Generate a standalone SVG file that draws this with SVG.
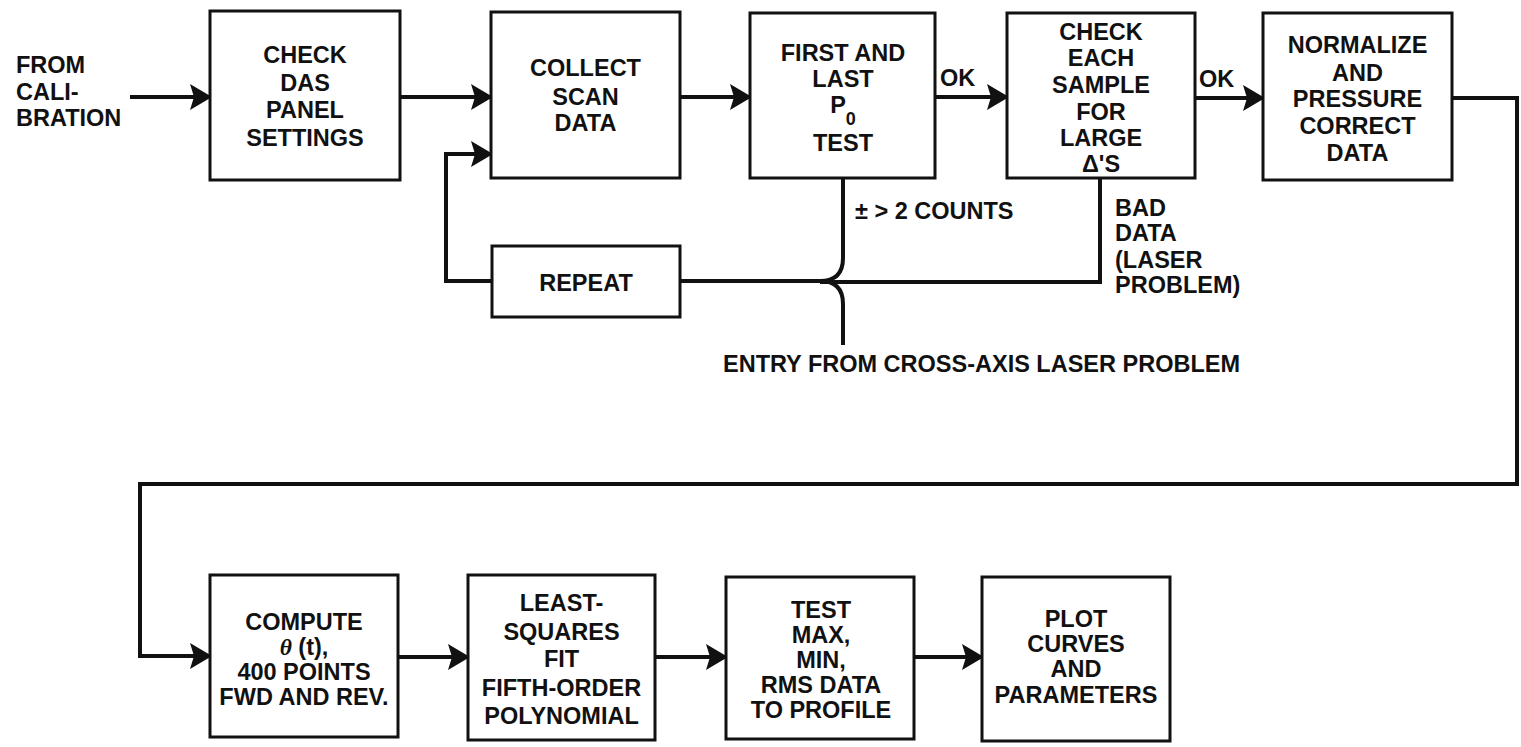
<svg xmlns="http://www.w3.org/2000/svg" width="1521" height="747" viewBox="0 0 1521 747">
  <style>
    .box { fill: #ffffff; stroke: #111111; stroke-width: 3; }
    .ln { fill: none; stroke: #111111; stroke-width: 4; stroke-linejoin: miter; }
    .t { font-family: "Liberation Sans", Arial, Helvetica, sans-serif; font-weight: bold; font-size: 23.5px; fill: #111111; }
    .c { text-anchor: middle; }
  </style>
  <defs>
    <marker id="arrow" markerUnits="userSpaceOnUse" markerWidth="24" markerHeight="28" refX="20" refY="13" orient="auto">
      <path d="M0,0 L22,13 L0,26 L4,13 Z" fill="#111111"/>
    </marker>
  </defs>
  <rect width="1521" height="747" fill="#ffffff"/>

  <g id="connectors">
    <!-- from calibration -->
    <line class="ln" x1="130" y1="97" x2="210" y2="97" marker-end="url(#arrow)"/>
    <line class="ln" x1="400" y1="97" x2="491" y2="97" marker-end="url(#arrow)"/>
    <line class="ln" x1="680" y1="97" x2="750" y2="97" marker-end="url(#arrow)"/>
    <line class="ln" x1="935" y1="97" x2="1007" y2="97" marker-end="url(#arrow)"/>
    <line class="ln" x1="1195" y1="98" x2="1263" y2="98" marker-end="url(#arrow)"/>
    <!-- return line to second row -->
    <path class="ln" d="M1452,98 H1517 V484 H140 V656 H210" marker-end="url(#arrow)"/>
    <line class="ln" x1="398" y1="657" x2="468" y2="657" marker-end="url(#arrow)"/>
    <line class="ln" x1="655" y1="657" x2="726" y2="657" marker-end="url(#arrow)"/>
    <line class="ln" x1="914" y1="657" x2="982" y2="657" marker-end="url(#arrow)"/>
    <!-- failure branches -->
    <path class="ln" d="M843,178 V258 Q843,281 820,281"/>
    <path class="ln" d="M1100,178 V282 H820"/>
    <path class="ln" d="M843,345 V304 Q843,281 820,281"/>
    <path class="ln" d="M822,281 H680"/>
    <path class="ln" d="M492,281 H446 V154 H491" marker-end="url(#arrow)"/>
  </g>

  <g id="label-from">
    <text class="t" x="16" y="73">FROM</text>
    <text class="t" x="16" y="100">CALI-</text>
    <text class="t" x="16" y="126">BRATION</text>
  </g>

  <g id="node-check-das">
    <rect class="box" x="210" y="11" width="190" height="169"/>
    <text class="t c" x="305" y="63">CHECK</text>
    <text class="t c" x="305" y="91">DAS</text>
    <text class="t c" x="305" y="118">PANEL</text>
    <text class="t c" x="305" y="146">SETTINGS</text>
  </g>

  <g id="node-collect">
    <rect class="box" x="491" y="12" width="189" height="166"/>
    <text class="t c" x="585.5" y="76">COLLECT</text>
    <text class="t c" x="585.5" y="105">SCAN</text>
    <text class="t c" x="585.5" y="131">DATA</text>
  </g>

  <g id="node-first-last">
    <rect class="box" x="750" y="13" width="185" height="165"/>
    <text class="t c" x="843" y="61">FIRST AND</text>
    <text class="t c" x="843" y="87">LAST</text>
    <text class="t c" x="843" y="113" font-size="20">P<tspan font-size="18" dy="12">0</tspan></text>
    <text class="t c" x="843" y="151">TEST</text>
  </g>

  <g id="label-ok1">
    <text class="t" x="940" y="86">OK</text>
  </g>

  <g id="node-check-each">
    <rect class="box" x="1007" y="13" width="188" height="165"/>
    <text class="t c" x="1101" y="40">CHECK</text>
    <text class="t c" x="1101" y="66">EACH</text>
    <text class="t c" x="1101" y="93">SAMPLE</text>
    <text class="t c" x="1101" y="120">FOR</text>
    <text class="t c" x="1101" y="146">LARGE</text>
    <text class="t c" x="1101" y="172">Δ'S</text>
  </g>

  <g id="label-ok2">
    <text class="t" x="1199" y="87">OK</text>
  </g>

  <g id="node-normalize">
    <rect class="box" x="1263" y="13" width="189" height="167"/>
    <text class="t c" x="1357.5" y="53">NORMALIZE</text>
    <text class="t c" x="1357.5" y="81">AND</text>
    <text class="t c" x="1357.5" y="107">PRESSURE</text>
    <text class="t c" x="1357.5" y="134">CORRECT</text>
    <text class="t c" x="1357.5" y="161">DATA</text>
  </g>

  <g id="label-counts">
    <text class="t" x="855" y="219">± &gt; 2 COUNTS</text>
  </g>

  <g id="label-bad-data">
    <text class="t" x="1115" y="216">BAD</text>
    <text class="t" x="1115" y="241">DATA</text>
    <text class="t" x="1115" y="268">(LASER</text>
    <text class="t" x="1115" y="293">PROBLEM)</text>
  </g>

  <g id="node-repeat">
    <rect class="box" x="492" y="246" width="188" height="71"/>
    <text class="t c" x="586" y="291">REPEAT</text>
  </g>

  <g id="label-entry">
    <text class="t" x="723" y="372">ENTRY FROM CROSS-AXIS LASER PROBLEM</text>
  </g>

  <g id="node-compute">
    <rect class="box" x="210" y="575" width="188" height="162"/>
    <text class="t c" x="304" y="630">COMPUTE</text>
    <text class="t c" x="304" y="655"><tspan font-family="'Liberation Serif', serif" font-style="italic">θ</tspan>  (t),</text>
    <text class="t c" x="304" y="680">400 POINTS</text>
    <text class="t c" x="304" y="705">FWD AND REV.</text>
  </g>

  <g id="node-least-squares">
    <rect class="box" x="468" y="575" width="187" height="165"/>
    <text class="t c" x="561.5" y="611">LEAST-</text>
    <text class="t c" x="561.5" y="640">SQUARES</text>
    <text class="t c" x="561.5" y="667">FIT</text>
    <text class="t c" x="561.5" y="696">FIFTH-ORDER</text>
    <text class="t c" x="561.5" y="724">POLYNOMIAL</text>
  </g>

  <g id="node-test">
    <rect class="box" x="726" y="577" width="188" height="162"/>
    <text class="t c" x="821" y="618">TEST</text>
    <text class="t c" x="821" y="643">MAX,</text>
    <text class="t c" x="821" y="668">MIN,</text>
    <text class="t c" x="821" y="693">RMS DATA</text>
    <text class="t c" x="821" y="718">TO PROFILE</text>
  </g>

  <g id="node-plot">
    <rect class="box" x="982" y="577" width="188" height="164"/>
    <text class="t c" x="1076" y="627">PLOT</text>
    <text class="t c" x="1076" y="652">CURVES</text>
    <text class="t c" x="1076" y="677">AND</text>
    <text class="t c" x="1076" y="703">PARAMETERS</text>
  </g>
</svg>
